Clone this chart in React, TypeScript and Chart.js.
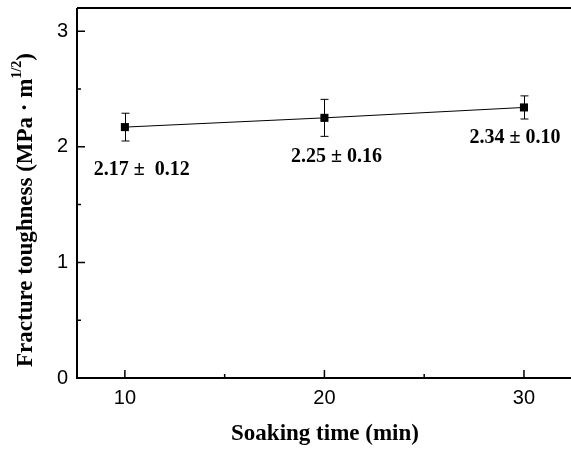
import React, { useEffect, useRef } from "react";
import { Chart, registerables } from "chart.js";

Chart.register(...registerables);

const soakingTime = [10, 20, 30];
const toughness = [2.17, 2.25, 2.34];
const errors = [0.12, 0.16, 0.1];
const pointLabels = ["2.17 \u00b1  0.12", "2.25 \u00b1 0.16", "2.34 \u00b1 0.10"];
const labelAnchorX = [10.85, 20.6, 29.55];
const labelAnchorY = [1.8, 1.91, 2.08];
const xMajorTicks = [10, 20, 30];
const xMinorTicks = [15, 25];
const yMajorTicks = [0, 1, 2, 3];
const yMinorTicks = [0.5, 1.5, 2.5];

const decorPlugin = {
  id: "decor",
  beforeDatasetsDraw(chart: any) {
    const { ctx, scales } = chart;
    const xs = scales.x;
    const ys = scales.y;
    ctx.save();
    ctx.strokeStyle = "#000";
    ctx.lineWidth = 1;
    soakingTime.forEach((t, i) => {
      const px = Math.round(xs.getPixelForValue(t)) + 0.5;
      const top = ys.getPixelForValue(toughness[i] + errors[i]);
      const bot = ys.getPixelForValue(toughness[i] - errors[i]);
      ctx.beginPath();
      ctx.moveTo(px, top);
      ctx.lineTo(px, bot);
      ctx.moveTo(px - 4, top);
      ctx.lineTo(px + 4, top);
      ctx.moveTo(px - 4, bot);
      ctx.lineTo(px + 4, bot);
      ctx.stroke();
    });
    ctx.restore();
  },
  afterDraw(chart: any) {
    const { ctx, chartArea, scales } = chart;
    const xs = scales.x;
    const ys = scales.y;
    const { left, right, top, bottom } = chartArea;
    ctx.save();
    ctx.strokeStyle = "#000";
    ctx.lineWidth = 2;
    ctx.beginPath();
    ctx.moveTo(left, top);
    ctx.lineTo(right + 20, top);
    ctx.moveTo(left, top);
    ctx.lineTo(left, bottom);
    ctx.lineTo(right + 20, bottom);
    ctx.stroke();

    ctx.lineWidth = 1.5;
    ctx.beginPath();
    xMajorTicks.forEach((v) => {
      const p = xs.getPixelForValue(v);
      ctx.moveTo(p, bottom);
      ctx.lineTo(p, bottom - 8);
    });
    xMinorTicks.forEach((v) => {
      const p = xs.getPixelForValue(v);
      ctx.moveTo(p, bottom);
      ctx.lineTo(p, bottom - 4);
    });
    yMajorTicks.forEach((v) => {
      const p = ys.getPixelForValue(v);
      ctx.moveTo(left, p);
      ctx.lineTo(left + 8, p);
    });
    yMinorTicks.forEach((v) => {
      const p = ys.getPixelForValue(v);
      ctx.moveTo(left, p);
      ctx.lineTo(left + 4, p);
    });
    ctx.stroke();

    // point annotations
    ctx.fillStyle = "#000";
    ctx.font = "bold 20px 'Liberation Serif'";
    ctx.textAlign = "center";
    ctx.textBaseline = "middle";
    pointLabels.forEach((txt, i) => {
      ctx.fillText(txt, xs.getPixelForValue(labelAnchorX[i]), ys.getPixelForValue(labelAnchorY[i]));
    });

    // x title
    ctx.font = "bold 23px 'Liberation Serif'";
    ctx.fillText("Soaking time (min)", 325, 434);

    // y title with superscript
    ctx.translate(26, 210);
    ctx.rotate(-Math.PI / 2);
    const main = "Fracture toughness (MPa \u00b7 m";
    const sup = "1/2";
    const close = ")";
    ctx.font = "bold 23px 'Liberation Serif'";
    const wMain = ctx.measureText(main).width;
    const wClose = ctx.measureText(close).width;
    ctx.font = "bold 14px 'Liberation Serif'";
    const wSup = ctx.measureText(sup).width;
    const total = wMain + wSup + wClose;
    const x0 = -total / 2;
    ctx.textAlign = "left";
    ctx.font = "bold 23px 'Liberation Serif'";
    ctx.fillText(main, x0, 0);
    ctx.font = "bold 14px 'Liberation Serif'";
    ctx.fillText(sup, x0 + wMain, -9);
    ctx.font = "bold 23px 'Liberation Serif'";
    ctx.fillText(close, x0 + wMain + wSup, 0);
    ctx.restore();
  },
};

export default function App() {
  const ref = useRef<HTMLCanvasElement>(null);
  useEffect(() => {
    if (!ref.current) return;
    const chart = new Chart(ref.current, {
      type: "line",
      data: {
        datasets: [
          {
            data: soakingTime.map((t, i) => ({ x: t, y: toughness[i] })),
            borderColor: "#000",
            borderWidth: 1,
            backgroundColor: "#000",
            pointStyle: "rect",
            pointRadius: 5.7,
            pointBackgroundColor: "#000",
            pointBorderWidth: 0,
            tension: 0,
          },
        ],
      },
      options: {
        responsive: false,
        animation: false,
        layout: { padding: { top: 8, right: 10, left: 0, bottom: 0 } },
        plugins: { legend: { display: false }, tooltip: { enabled: false } },
        scales: {
          x: {
            type: "linear",
            min: 7.6,
            max: 33.31,
            grid: { display: false, drawTicks: false },
            border: { display: false },
            afterFit: (s: any) => {
              s.height = 72;
              s.paddingLeft = 0;
              s.paddingRight = 0;
            },
            afterBuildTicks: (s: any) => {
              s.ticks = xMajorTicks.map((v) => ({ value: v }));
            },
            ticks: {
              padding: 8,
              color: "#000",
              font: { family: "'Liberation Sans'", size: 20 },
              callback: (v: any) => String(v),
            },
          },
          y: {
            type: "linear",
            min: 0,
            max: 3.2,
            grid: { display: false, drawTicks: false },
            border: { display: false },
            afterFit: (s: any) => {
              s.width = 77;
              s.paddingTop = 0;
              s.paddingBottom = 0;
            },
            afterBuildTicks: (s: any) => {
              s.ticks = yMajorTicks.map((v) => ({ value: v }));
            },
            ticks: {
              padding: 9,
              color: "#000",
              font: { family: "'Liberation Sans'", size: 20 },
              callback: (v: any) => String(v),
            },
          },
        },
      },
      plugins: [decorPlugin],
    });
    return () => chart.destroy();
  }, []);
  return (
    <div style={{ position: "absolute", left: 0, top: 0, width: 571, height: 450, overflow: "hidden", background: "#fff" }}>
      <canvas ref={ref} width={600} height={450} />
    </div>
  );
}
